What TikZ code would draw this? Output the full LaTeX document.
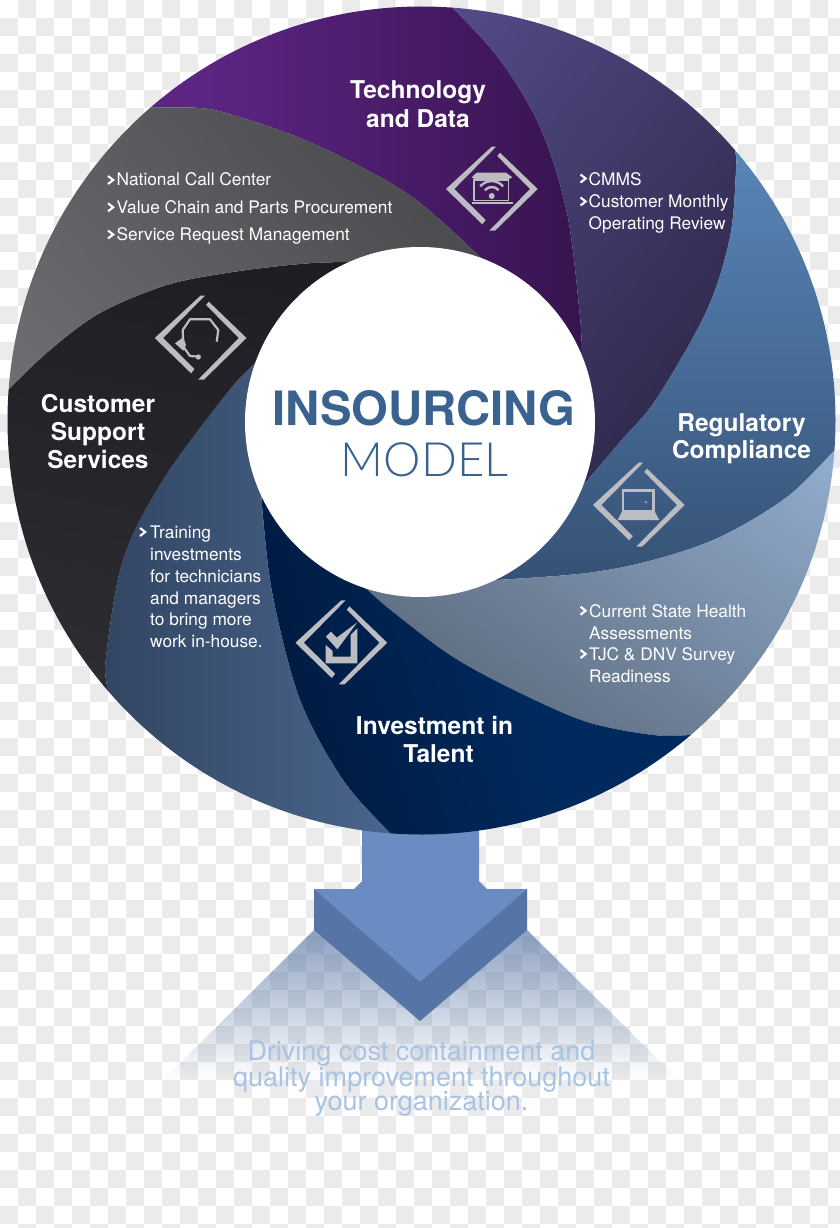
\documentclass[tikz,border=0pt]{standalone}
\usepackage{fontspec}
\setmainfont{TeX Gyre Heros}
\newfontfamily\lightf[UprightFont={* Light}]{Lato}
\definecolor{chk}{HTML}{EBEBEB}
\definecolor{iconc}{HTML}{BCBDC0}
\definecolor{arrowface}{HTML}{6B8CC2}
\definecolor{arrowside}{HTML}{5675A6}
\definecolor{modelblue}{HTML}{3A628E}
\definecolor{drivetxt}{HTML}{A8C3E3}
\definecolor{pA1}{HTML}{5C2483}\definecolor{pA2}{HTML}{2C0F40}
\definecolor{pB1}{HTML}{564E8C}\definecolor{pB2}{HTML}{2A2444}
\definecolor{pC1}{HTML}{5A88BB}\definecolor{pC2}{HTML}{2A3F5E}
\definecolor{pD1}{HTML}{4F5A69}\definecolor{pD2}{HTML}{93AED0}
\definecolor{pE1}{HTML}{00173A}\definecolor{pE2}{HTML}{002A5E}
\definecolor{pF1}{HTML}{293A54}\definecolor{pF2}{HTML}{4F6C95}
\definecolor{pG1}{HTML}{17181E}\definecolor{pG2}{HTML}{35333A}
\definecolor{pH1}{HTML}{3E3E41}\definecolor{pH2}{HTML}{7D7E82}
\tikzset{
  headtxt/.style={font=\bfseries\fontsize{24.5}{28}\selectfont,text=white,align=center,inner sep=0pt,anchor=base},
  listtxt/.style={font=\fontsize{17.3}{21.8}\selectfont,text=white,align=left,inner sep=0pt,anchor=base west},
  chevline/.style={draw=white,line width=2.1pt,miter limit=10},
  iconline/.style={draw=iconc,line width=2.2pt,line join=round}
}
% boundary curves, outer end to inner end, and reversed
\def\Bas{(110,107) (150,107.5) (200,108) (233,115) (300,138) (367,170) (420,203) (480,257) (500,280)}
\def\Bar{(500,280) (480,257) (420,203) (367,170) (300,138) (233,115) (200,108) (150,107.5) (110,107)}
\def\Bbs{(440,-5) (453,8) (500,60) (540,127) (567,213) (580,317) (581,350) (580,375)}
\def\Bbr{(580,375) (581,350) (580,317) (567,213) (540,127) (500,60) (453,8) (440,-5)}
\def\Bcs{(730,130) (735,150) (736,170) (730,237) (707,310) (657,398) (620,442) (585,483) (570,500)}
\def\Bcr{(570,500) (585,483) (620,442) (657,398) (707,310) (730,237) (736,170) (735,150) (730,130)}
\def\Bds{(850,435) (835,450) (787,497) (720,537) (653,560) (587,573) (497,580) (470,581)}
\def\Bdr{(470,581) (497,580) (587,573) (653,560) (720,537) (787,497) (835,450) (850,435)}
\def\Bes{(720,733) (692,735) (653,735) (587,722) (520,693) (453,657) (393,612) (365,588) (345,572)}
\def\Ber{(345,572) (365,588) (393,612) (453,657) (520,693) (587,722) (653,735) (692,735) (720,733)}
\def\Bfs{(405,848) (390,833) (343,780) (300,700) (273,597) (263,517) (261,480)}
\def\Bfr{(261,480) (263,517) (273,597) (300,700) (343,780) (390,833) (405,848)}
\def\Bgs{(108,710) (107,687) (106,657) (123,560) (163,480) (227,393) (253,365) (275,345)}
\def\Bgr{(275,345) (253,365) (227,393) (163,480) (123,560) (106,657) (107,687) (108,710)}
\def\Bhs{(-10,410) (8,390) (50,350) (100,313) (167,285) (233,272) (300,264) (343,262) (380,262)}
\def\Bhr{(380,262) (343,262) (300,264) (233,272) (167,285) (100,313) (50,350) (8,390) (-10,410)}
\newcommand\petal[9]{%
  \begin{scope}
    \edef\tmp{\noexpand\clip plot[smooth,tension=.55] coordinates {#1} -- (cc) -- plot[smooth,tension=.55] coordinates {#2} -- #3 -- cycle;}\tmp
    \pgfmathsetmacro\pang{atan2(#5-#7,#6-#4)}
    \pgfmathsetmacro\plen{veclen(#6-#4,#7-#5)}
    \pgfmathsetmacro\plo{-\plen/2}
    \pgfmathsetmacro\phi{1.5*\plen}
    \begin{scope}[transform canvas={shift={(#4pt,-#5pt)},rotate=\pang}]
      \fill[#8] (-2500,-2500) rectangle (\plo+1,2500);
      \fill[#9] (\phi-1,-2500) rectangle (2500,2500);
      \shade[left color=#8,right color=#9] (\plo,-2500) rectangle (\phi,2500);
    \end{scope}
  \end{scope}}
\newcommand\chev[2]{\draw[chevline] (#1,#2-4) -- (#1+5.2,#2) -- (#1,#2+4);}
\newcommand\diamondframe{%
  \fill[iconc] (-46,0) -- (-0.3,-42.3) -- (4,-42.3) -- (-37.7,0) -- (-6.3,31) -- (-9.7,35.3) -- cycle;
  \fill[iconc] (45.7,0) -- (8,-36.3) -- (5.3,-33) -- (38,0) -- (-2.7,41.7) -- (3,41.7) -- cycle;}
\begin{document}
\begin{tikzpicture}[x=1pt,y=-1pt]
\useasboundingbox (0,0) rectangle (840,1228);
\fill[white] (0,0) rectangle (840,1228);
% checker ground
\foreach \i in {0,2,...,46}{\foreach \j in {1,3,...,67}{\fill[chk] (\i*18,\j*18) rectangle ++(18,18);}}
\foreach \i in {1,3,...,45}{\foreach \j in {0,2,...,68}{\fill[chk] (\i*18,\j*18) rectangle ++(18,18);}}
% fading trapezium below the arrow
\begin{scope}
  \clip (314,930) -- (163,1080) -- (679,1080) -- (527,930) -- cycle;
  \foreach \y in {930,932,...,1078}{
    \pgfmathsetmacro\op{0.67*(1-(\y-930)/150)}
    \fill[arrowside,fill opacity=\op] (150,\y) rectangle (690,\y+2);
  }
\end{scope}
% arrow
\fill[arrowside] (314,889) -- (314,930) -- (420,1021) -- (527,930) -- (527,889) -- cycle;
\fill[arrowface] (362,820) -- (479,820) -- (479,881) -- (487,889) -- (527,889) -- (420,982) -- (314,889) -- (354,889) -- (362,881) -- cycle;
% disc
\coordinate (cc) at (420,422);
\begin{scope}
  \clip (421.5,420.5) circle (414);
  \petal{\Bas}{\Bbr}{(200,-400)}{330}{100}{570}{100}{pA1}{pA2}
  \petal{\Bbs}{\Bcr}{(800,-400)}{510}{90}{720}{260}{pB1}{pB2}
  \petal{\Bcs}{\Bdr}{(1400,200)}{600}{280}{600}{580}{pC1}{pC2}
  \petal{\Bds}{\Ber}{(1300,1000)}{530}{735}{690}{510}{pD1}{pD2}
  \petal{\Bes}{\Bfr}{(600,1500)}{300}{700}{450}{660}{pE1}{pE2}
  \petal{\Bfs}{\Bgr}{(100,1400)}{110}{600}{340}{600}{pF1}{pF2}
  \petal{\Bgs}{\Bhr}{(-500,600)}{200}{280}{120}{690}{pG1}{pG2}
  \petal{\Bhs}{\Bar}{(-400,0)}{330}{120}{30}{390}{pH1}{pH2}
\end{scope}
\fill[white] (cc) circle (175);
% icons (y runs downward, so an arch uses the angles 220 to 320)
\begin{scope}[shift={(492,189)}]
  \diamondframe
  \fill[iconc] (-15.3,-16.3) -- (14,-16.3) -- (20.3,-11.7) -- (16,-9.5) -- (-16.5,-9.5) -- (-20.3,-11.7) -- cycle;
  \draw[iconc,line width=1.3pt] (-18,-9) rectangle (16.3,11.7);
  \fill[iconc] (-20.3,13.3) rectangle (20.7,15.3);
  \fill[iconc] (-0.3,7) circle (3);
  \draw[iconc,line width=2.4pt] (-7.19,1.21) arc (220:320:9);
  \draw[iconc,line width=2.4pt] (-11.79,-2.64) arc (220:320:15);
\end{scope}
\begin{scope}[shift={(200.8,338)}]
  \diamondframe
  \draw[iconline] (15.9,3.7) -- (17.5,-8) -- (9.2,-18.7) -- (-10.8,-18.7) -- (-18.1,-8) -- (-17.5,8.7) -- (-10.8,18) -- (-0.8,18.7);
  \fill[iconc] (-25.8,5.3) -- (-17.5,-0.7) -- (-14.8,7) -- (-17.5,12.7) -- cycle;
  \fill[iconc] (-2.5,19) circle (2.6);
\end{scope}
\begin{scope}[shift={(341.5,642.7)}]
  \diamondframe
  \fill[iconc] (-15.8,2.3) -- (-15.8,20.6) -- (15.8,20.6) -- (15.8,-14.4) -- (9.2,-7.7) -- (9.2,14) -- (-8.8,14) -- (-8.8,8.3) -- cycle;
  \fill[iconc] (-15.5,-6) -- (-10.5,-11) -- (-4.8,-5) -- (15.8,-20.4) -- (-4.2,6.6) -- cycle;
\end{scope}
\begin{scope}[shift={(639,505)}]
  \diamondframe
  \draw[iconc,line width=2.6pt] (-16,-14.4) rectangle (14.7,6);
  \fill[iconc] (-17.3,7) -- (16,7) -- (20.3,15) -- (-21.3,15) -- cycle;
  \fill[iconc] (5.5,-4.5) -- (8.2,-2.5) -- (7,-1.5) -- cycle;
\end{scope}
% chevrons
\chev{108}{180}
\chev{108}{207.3}
\chev{108}{234.5}
\chev{580.5}{178.5}
\chev{580.5}{201.5}
\chev{580.5}{610.7}
\chev{580.5}{654}
\chev{140}{532}
% texts (the base of a multi-line node is the baseline of its last line)
\node[headtxt,font=\bfseries\fontsize{24.5}{29}\selectfont] (tech) at (418,127.5) {Technology\\and Data};
\node[headtxt,font=\bfseries\fontsize{24.5}{27}\selectfont] (reg) at (741.5,458) {Regulatory\\Compliance};
\node[headtxt] (cust) at (98,468.7) {Customer\\Support\\Services};
\node[headtxt] (talent) at (434.5,762) {Investment in\\\hspace*{8pt}Talent};
\node[listtxt,font=\fontsize{17.3}{27.4}\selectfont] (callcenter) at (116.5,240.7) {National Call Center\\Value Chain and Parts Procurement\\Service Request Management};
\node[listtxt] (cmms) at (588.5,229.3) {CMMS\\Customer Monthly\\Operating Review};
\node[listtxt] (health) at (589,682.7) {Current State Health\\Assessments\\TJC \& DNV Survey\\Readiness};
\node[listtxt] (training) at (150,647.7) {Training\\investments\\for technicians\\and managers\\to bring more\\work in-house.};
\node[inner sep=0pt,anchor=base,text=modelblue,font=\bfseries\fontsize{47.3}{47.3}\selectfont] (insourcing) at (424,425) {INSOURCING};
\node[inner sep=0pt,anchor=base,text=modelblue,font=\lightf\fontsize{47.3}{47.3}\selectfont] (model) at (424.5,476) {MODEL};
\node[inner sep=0pt,anchor=base,align=center,text=drivetxt,font=\fontsize{27}{25}\selectfont] (driving) at (421.5,1110) {Driving cost containment and\\[-1pt]quality improvement throughout\\[-1pt]your organization.};
\end{tikzpicture}
\end{document}
